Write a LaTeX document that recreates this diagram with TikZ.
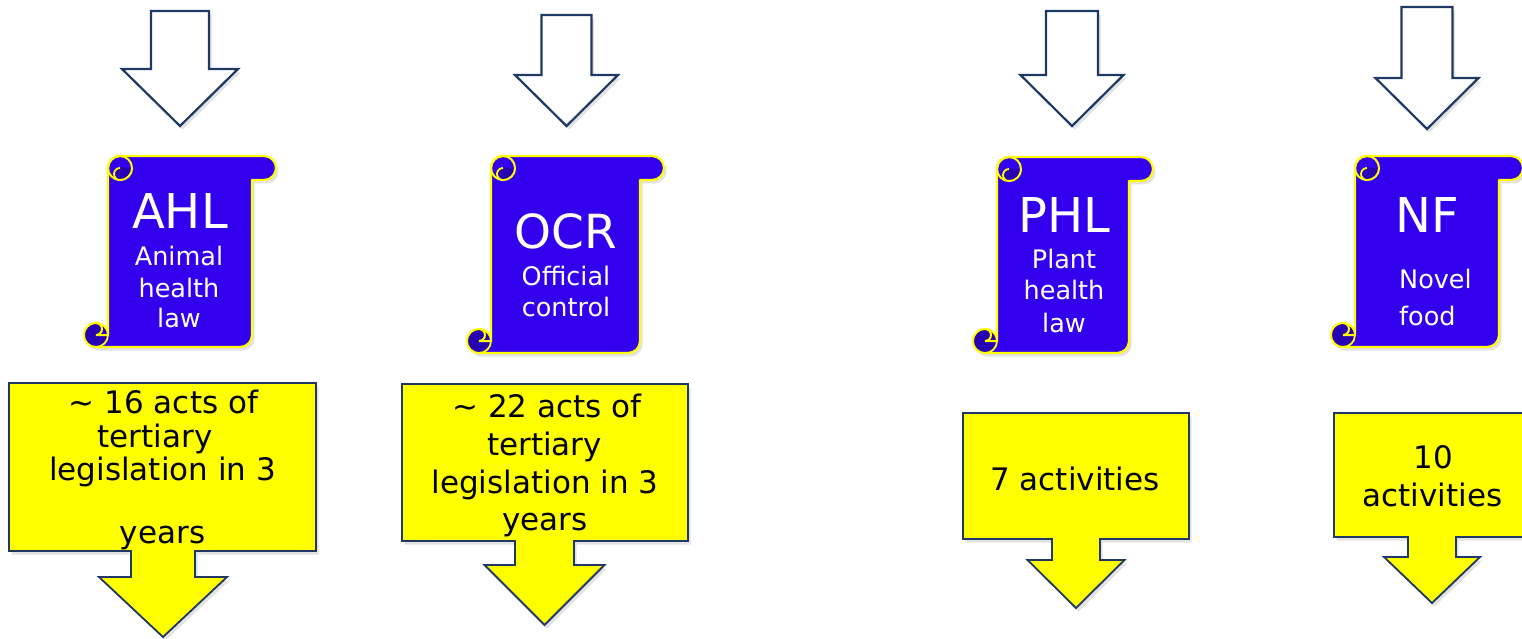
\documentclass[tikz,border=0pt]{standalone}
\usepackage{fontspec}
\setmainfont{DejaVu Sans}
\usetikzlibrary{shadows}
\definecolor{navy}{RGB}{32,56,100}
\definecolor{scrollblue}{RGB}{51,0,238}
\definecolor{scrolldarkc}{RGB}{40,0,180}
\definecolor{yel}{RGB}{255,255,0}
\tikzset{
  softshadow/.style={drop shadow={opacity=0.2, shadow xshift=2.5pt, shadow yshift=-3.5pt, fill=black!55}},
  hollowarrow/.style={draw=navy, line width=2.2pt, fill=white, line join=miter, softshadow},
  callout/.style={draw=navy, line width=1.8pt, fill=yel, line join=miter, softshadow},
  scrollmain/.style={fill=scrollblue, draw=yel, line width=2.2pt, line join=round, softshadow},
  scrollline/.style={draw=yel, line width=2pt},
  scrolldark/.style={fill=scrolldarkc, draw=yel, line width=1.8pt, line join=round},
  bigtxt/.style={text=white, font=\fontsize{48}{58}\selectfont, inner sep=0pt, anchor=base},
  smalltxt/.style={text=white, font=\fontsize{25.5}{30}\selectfont, inner sep=0pt, anchor=base},
  boxtxt/.style={text=black, font=\fontsize{31}{37}\selectfont, inner sep=0pt, anchor=base},
}
% hollow down arrow: cx, shaft half width, top, shoulder y, wing half width, tip y
\newcommand{\hollowarr}[6]{%
  \path[hollowarrow] ({#1-#2},#3) -- ({#1+#2},#3) -- ({#1+#2},#4) -- ({#1+#5},#4)
    -- (#1,#6) -- ({#1-#5},#4) -- ({#1-#2},#4) -- cycle;}
% down arrow callout: L, T, R, B, cx, shaft half width, shoulder y, wing half width, tip y
\newcommand{\calloutshape}[9]{%
  \path[callout] (#1,#2) -- (#3,#2) -- (#3,#4) -- ({#5+#6},#4) -- ({#5+#6},#7)
    -- ({#5+#8},#7) -- (#5,#9) -- ({#5-#8},#7) -- ({#5-#6},#7) -- ({#5-#6},#4)
    -- (#1,#4) -- cycle;}
% vertical scroll: L, T, R, B
\newcommand{\scrollshape}[4]{%
  \path[scrollmain] ({#1+12},#4) -- ({#3-36},#4) arc[start angle=90,end angle=0,radius=12]
    -- ({#3-24},{#2+24}) -- ({#3-12},{#2+24}) arc[start angle=90,end angle=-90,radius=12]
    -- ({#1+36},#2) arc[start angle=270,end angle=180,radius=12]
    -- ({#1+24},{#4-12}) arc[start angle=0,end angle=-270,radius=12] -- cycle;
  \draw[scrollline] ({#1+36},{#2+12}) circle[radius=12];
  \path[scrolldark] ({#1+36},{#2+12}) arc[start angle=-90,end angle=-270,radius=6]
    -- ({#1+36},{#2+24}) arc[start angle=90,end angle=0,radius=12];
  \path[scrolldark] ({#1+12},{#4-12}) circle[radius=12];
  \draw[scrollline] ({#1+12},{#4-24}) arc[start angle=-90,end angle=90,radius=6]
    -- ({#1+24},{#4-12});
}
\begin{document}
\begin{tikzpicture}[x=1pt,y=-1pt]
\clip (0,0) rectangle (1522,639);
\fill[white] (0,0) rectangle (1522,639);

% top hollow arrows
\hollowarr{180}{29}{11}{69}{58}{126}
\hollowarr{566.5}{25}{15}{75}{51.5}{126}
\hollowarr{1072}{26}{11}{75}{51.5}{126}
\hollowarr{1427}{25.5}{7}{78}{51.5}{129}

% scrolls
\scrollshape{84}{156}{276}{347}
\scrollshape{467}{156}{664}{353}
\scrollshape{973}{157}{1153}{353}
\scrollshape{1331}{156}{1523}{347}

\node[bigtxt] (ahlT) at (180,228) {AHL};
\node[smalltxt] (ahl1) at (179,265) {Animal};
\node[smalltxt] (ahl2) at (179,297) {health};
\node[smalltxt] (ahl3) at (179,327) {law};

\node[bigtxt, font=\fontsize{47}{56}\selectfont] (ocrT) at (566,248) {OCR};
\node[smalltxt] (ocr1) at (566,285) {Official};
\node[smalltxt] (ocr2) at (566,316) {control};

\node[bigtxt] (phlT) at (1064,232) {PHL};
\node[smalltxt] (phl1) at (1064,268) {Plant};
\node[smalltxt] (phl2) at (1064,299) {health};
\node[smalltxt] (phl3) at (1064,332) {law};

\node[bigtxt] (nfT) at (1427.5,232) {NF};
\node[smalltxt, anchor=base west] (nf1) at (1399,288) {Novel};
\node[smalltxt, anchor=base west] (nf2) at (1399,325) {food};

% callouts
\calloutshape{9}{383}{316}{551}{163}{32}{577}{64}{637}
\calloutshape{402}{384}{688}{541}{544.5}{29.5}{565}{60}{625}
\calloutshape{963}{413}{1189}{539}{1076}{24}{560}{48.5}{608}
\calloutshape{1334}{413}{1530}{537}{1432}{24}{557}{48}{603}

\node[boxtxt] (ahlb1) at (163.5,413) {\textasciitilde{} 16 acts of};
\node[boxtxt] (ahlb2) at (155,447) {tertiary};
\node[boxtxt] (ahlb3) at (162.5,480) {legislation in 3};
\node[boxtxt] (ahlb4) at (162.5,543) {years};

\node[boxtxt] (ocrb1) at (547,417) {\textasciitilde{} 22 acts of};
\node[boxtxt] (ocrb2) at (544.5,455) {tertiary};
\node[boxtxt] (ocrb3) at (545,493) {legislation in 3};
\node[boxtxt] (ocrb4) at (545,530) {years};

\node[boxtxt] (phlb1) at (1075,490) {7 activities};

\node[boxtxt] (nfb1) at (1433,468) {10};
\node[boxtxt] (nfb2) at (1432.5,506) {activities};
\end{tikzpicture}
\end{document}
